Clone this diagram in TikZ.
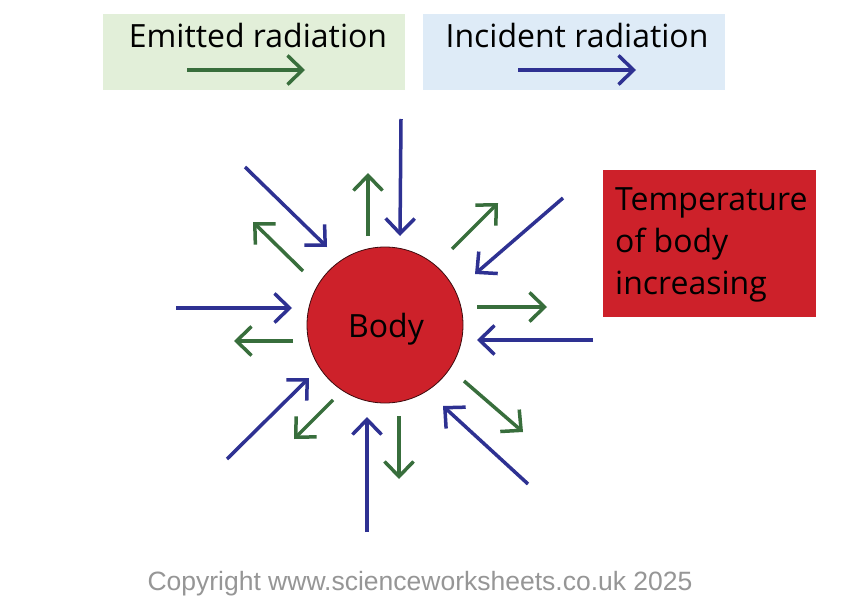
\documentclass[tikz,border=0pt]{standalone}
\usepackage{fontspec}
\setmainfont{Open Sans}
\newfontfamily\copyfont{Liberation Sans}
\usetikzlibrary{arrows.meta}
\definecolor{bodyred}{RGB}{205,33,42}
\definecolor{legendgreen}{RGB}{226,239,217}
\definecolor{legendblue}{RGB}{222,235,247}
\definecolor{emitgreen}{RGB}{56,110,60}
\definecolor{incblue}{RGB}{46,49,146}
\definecolor{copygray}{RGB}{150,150,150}
\tikzset{
  incarrow/.style={draw=incblue, line width=3.5pt, -{Straight Barb[length=15pt,width=29pt]}},
  emitarrow/.style={draw=emitgreen, line width=3.5pt, -{Straight Barb[length=15pt,width=29pt]}},
  legendbox/.style={rectangle, draw=none, minimum width=302pt, minimum height=76pt, anchor=north west, inner sep=0pt},
  bigtext/.style={inner sep=0pt, font=\fontsize{32}{42}\selectfont},
}
\begin{document}
\begin{tikzpicture}[x=1pt,y=-1pt]
\useasboundingbox[fill=white] (0,0) rectangle (842,596);
% legend boxes
\node[legendbox, fill=legendgreen] (emitbox) at (103,14) {};
\node[legendbox, fill=legendblue] (incbox) at (423,14) {};
\node[bigtext, anchor=base] (emitlabel) at (258,48) {Emitted radiation};
\node[bigtext, anchor=base] (inclabel) at (577,48) {Incident radiation};
\coordinate (le1) at (187,70); \coordinate (le2) at (305,70);
\coordinate (li1) at (518,70); \coordinate (li2) at (636,70);
\draw[emitarrow] (le1) -- (le2);
\draw[incarrow] (li1) -- (li2);
% body
\node[circle, fill=bodyred, draw=black!70!bodyred, line width=0.8pt, minimum size=156pt, inner sep=0pt] (body) at (385,325) {};
\node[bigtext, anchor=base] (bodylabel) at (386,337) {Body};
% temperature box
\node[rectangle, fill=bodyred, minimum width=213pt, minimum height=147pt, anchor=north west, inner sep=0pt] (tempbox) at (603,170) {};
\node[bigtext, anchor=base west] (t1) at (615,210) {Temperature};
\node[bigtext, anchor=base west] (t2) at (615,252) {of body};
\node[bigtext, anchor=base west] (t3) at (615,294) {increasing};
% incident arrows
\coordinate (a1s) at (401,119); \coordinate (a1e) at (400,236);
\coordinate (a2s) at (245,167); \coordinate (a2e) at (327,247);
\coordinate (a3s) at (176,308); \coordinate (a3e) at (292,308);
\coordinate (a4s) at (227,459); \coordinate (a4e) at (309,378);
\coordinate (a5s) at (367,532); \coordinate (a5e) at (367,417);
\coordinate (a6s) at (528,484); \coordinate (a6e) at (443,406);
\coordinate (a7s) at (593,340); \coordinate (a7e) at (477,340);
\coordinate (a8s) at (563,198); \coordinate (a8e) at (475,274);
\foreach \i in {1,...,8} {\draw[incarrow] (a\i s) -- (a\i e);}
% emitted arrows
\coordinate (g1s) at (368,236); \coordinate (g1e) at (368,173);
\coordinate (g2s) at (303,271); \coordinate (g2e) at (253,222);
\coordinate (g3s) at (293,341); \coordinate (g3e) at (234,341);
\coordinate (g4s) at (333,400); \coordinate (g4e) at (294,439);
\coordinate (g5s) at (399,416); \coordinate (g5e) at (399,479);
\coordinate (g6s) at (464,381); \coordinate (g6e) at (523,432);
\coordinate (g7s) at (477,307); \coordinate (g7e) at (547,307);
\coordinate (g8s) at (452,249); \coordinate (g8e) at (498,203);
\foreach \i in {1,...,8} {\draw[emitarrow] (g\i s) -- (g\i e);}
% copyright
\node[inner sep=0pt, anchor=base, text=copygray, font=\copyfont\fontsize{26.5}{30}\selectfont] (copyright) at (420,590) {Copyright www.scienceworksheets.co.uk 2025};
\end{tikzpicture}
\end{document}
